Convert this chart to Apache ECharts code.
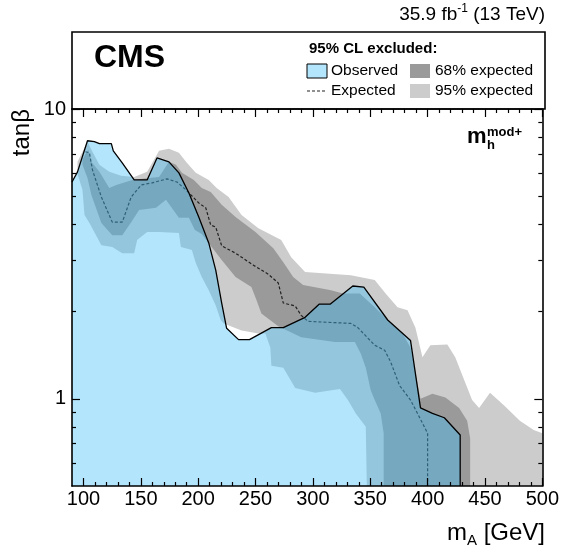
<!DOCTYPE html>
<html>
<head>
<meta charset="utf-8">
<script src="https://cdn.jsdelivr.net/npm/echarts@6/dist/echarts.min.js"></script>
<style>
  html, body { margin: 0; padding: 0; background: #fff; }
  #chart { width: 562px; height: 547px; }
</style>
</head>
<body>
<div id="chart"></div>
<script>
// [mA (GeV), tanBeta] pairs

// observed exclusion contour (black line)
const observed = [
  [90, 5.60], [94.8, 6.07], [103.5, 7.77], [109.5, 7.71], [113.9, 7.59], [124.3, 7.59],
  [126, 7.17], [133.8, 6.52], [144.2, 5.69], [155.5, 5.69], [164.1, 6.78], [174.5, 6.57],
  [183.2, 6.02], [191.9, 5.13], [200.5, 4.24], [209.2, 3.45], [215.3, 2.78], [220.5, 2.14],
  [224.8, 1.75], [235.2, 1.60], [244.7, 1.60], [263.8, 1.76], [274.2, 1.76], [293.2, 1.91],
  [305.4, 2.12], [315, 2.12], [334.8, 2.45], [344.4, 2.43], [365.2, 1.87], [385.1, 1.59],
  [393.8, 0.93], [404.2, 0.89], [414.6, 0.86], [428.4, 0.75], [428.4, 0.5]
];

// median expected (dashed)
const expMedian = [
  [101.7, 7.12], [105.2, 7.06], [107.8, 6.17], [115.6, 4.97], [125.1, 4.07], [133.8, 4.07],
  [141.6, 4.97], [150.3, 5.47], [159.8, 5.56], [172.8, 5.74], [181.5, 5.60], [189.3, 5.26],
  [200.5, 4.74], [206.6, 4.56], [210.9, 3.98], [215.3, 3.91], [220.5, 3.37], [232.6, 3.18],
  [248.2, 2.89], [261.2, 2.69], [269.8, 2.51], [274.2, 2.14], [284.6, 2.09], [289.8, 1.94],
  [295.8, 1.85], [333.1, 1.82], [339.2, 1.76], [353.9, 1.53], [362.6, 1.47], [367.8, 1.34],
  [375.6, 1.11], [385.1, 0.99], [391.2, 0.89], [400, 0.76], [400, 0.5]
];

// 68% band edges
const exp68Upper = [
  [99.1, 6.68], [101.7, 7.00], [104.3, 7.23], [106.9, 6.57], [113.9, 6.07], [122.5, 5.34],
  [128.6, 5.47], [142.5, 5.69], [157.2, 5.78], [165.9, 5.83], [174.5, 6.57], [180.6, 6.42],
  [185.8, 6.02], [196.2, 5.69], [203.1, 5.34], [210.9, 5.17], [220.5, 4.67], [232.6, 4.24],
  [249.9, 3.76], [265.5, 3.31], [274.2, 2.96], [282.8, 2.63], [291.5, 2.47], [315.8, 2.37],
  [326.2, 2.31], [340.9, 2.31], [353.9, 2.07], [365.2, 1.87], [378.2, 1.68], [385.1, 1.50],
  [393.8, 1.00], [404.2, 1.04], [415.5, 1.01], [427.5, 0.93], [434.5, 0.84], [437.1, 0.73],
  [437.1, 0.5]
];
const exp68Lower = [
  [99.1, 6.42], [103.5, 5.78], [106.9, 5.05], [115.6, 4.04], [125.1, 3.67], [133.8, 3.67],
  [141.6, 4.07], [148.5, 4.48], [163.3, 4.56], [171.9, 4.86], [183.2, 4.21], [191.9, 4.21],
  [197.1, 3.82], [203.1, 3.70], [211.8, 3.34], [220.5, 3.01], [232.6, 2.63], [246.4, 2.43],
  [250.8, 2.19], [255.1, 1.97], [269.8, 1.78], [289.8, 1.63], [319.2, 1.57], [336.6, 1.57],
  [341.8, 1.43], [346.1, 1.28], [350.4, 1.07], [353.9, 0.99], [359.1, 0.89], [361.7, 0.76],
  [361.7, 0.5]
];

// 95% band edges
const exp95Upper = [
  [94.8, 6.57], [100, 7.23], [103.5, 7.71], [107.8, 7.12], [113.9, 6.42], [122.5, 6.07],
  [132.9, 5.88], [144.2, 5.83], [155.5, 6.07], [161.5, 6.68], [165.9, 7.17], [174.5, 7.29],
  [183.2, 7.06], [190.1, 6.52], [197.9, 6.02], [209.2, 5.69], [216.1, 5.34], [226.5, 4.97],
  [237.8, 4.31], [252.5, 3.88], [272.4, 3.53], [281.1, 3.08], [293.2, 2.74], [333.1, 2.67],
  [353.9, 2.57], [363.4, 2.31], [373.8, 2.07], [382.5, 2.02], [389.4, 1.76], [395.5, 1.39],
  [402.4, 1.53], [417.2, 1.54], [424.1, 1.39], [431.9, 1.16], [438.8, 0.99], [444.9, 0.93],
  [454.4, 1.05], [466.5, 0.95], [480.4, 0.84], [492.5, 0.78], [500, 0.76], [500, 0.5]
];
const exp95Lower = [
  [94.8, 5.97], [99.1, 5.26], [100.9, 4.31], [105.2, 4.04], [115.6, 3.39], [125.1, 3.34],
  [133.8, 3.18], [144.2, 3.18], [146.8, 3.53], [155.5, 3.76], [165.9, 3.76], [183.2, 3.73],
  [184.9, 3.34], [194.5, 3.26], [197.9, 2.94], [203.1, 2.63], [209.2, 2.37], [215.3, 2.10],
  [219.6, 1.87], [222.2, 1.82], [237.8, 1.72], [252.5, 1.68], [258.6, 1.68], [262.9, 1.50],
  [263.8, 1.30], [274.2, 1.28], [284.6, 1.09], [301.9, 1.05], [323.6, 1.08], [330.5, 0.99],
  [337.4, 0.89], [346.1, 0.80], [347, 0.5]
];

// axis ticks
const xTickLabels = [100, 150, 200, 250, 300, 350, 400, 450, 500];
const xMinorTicks = [110, 120, 130, 140, 160, 170, 180, 190, 210, 220, 230, 240, 260, 270, 280, 290,
  310, 320, 330, 340, 360, 370, 380, 390, 410, 420, 430, 440, 460, 470, 480, 490];
const yTickLabels = [1, 10];
const yMinorTicks = [0.6, 0.7, 0.8, 0.9, 2, 3, 4, 5, 6, 7, 8, 9];

const FONT = '"Liberation Sans", Arial, Helvetica, sans-serif';

const band95 = exp95Upper.concat(exp95Lower.slice().reverse());
const band68 = exp68Upper.concat(exp68Lower.slice().reverse());
const obsArea = observed.concat([[90, 0.5]]);

const polySeries = (name, pts, fill, z) => ({
  name,
  type: 'custom',
  z,
  silent: true,
  data: [[100, 1]],
  renderItem: (params, api) => ({
    type: 'polygon',
    shape: { points: pts.map((p) => api.coord(p)) },
    style: { fill }
  })
});

const frame = { show: true, lineStyle: { color: '#000', width: 1.6 } };
const tickLine = { color: '#000', width: 1.2 };

const xAxisBase = {
  type: 'value', min: 90, max: 500, z: 10,
  splitLine: { show: false }, axisLine: frame
};
const yAxisBase = {
  type: 'log', logBase: 10, min: 0.5, max: 10, z: 10,
  splitLine: { show: false }, axisLine: frame
};

const chart = echarts.init(document.getElementById('chart'), null, { renderer: 'canvas' });

chart.setOption({
  animation: false,
  grid: { left: 72, top: 109, width: 473, height: 377 },
  xAxis: [
    {
      ...xAxisBase, position: 'bottom',
      axisTick: { inside: true, length: 8, customValues: xTickLabels, lineStyle: tickLine },
      axisLabel: { customValues: xTickLabels, margin: 3, fontSize: 20, color: '#000', fontFamily: FONT }
    },
    {
      ...xAxisBase, position: 'bottom', axisLine: { show: false },
      axisTick: { inside: true, length: 4, customValues: xMinorTicks, lineStyle: tickLine },
      axisLabel: { show: false }
    },
    {
      ...xAxisBase, position: 'top',
      axisTick: { inside: true, length: 8, customValues: xTickLabels, lineStyle: tickLine },
      axisLabel: { show: false }
    },
    {
      ...xAxisBase, position: 'top', axisLine: { show: false },
      axisTick: { inside: true, length: 4, customValues: xMinorTicks, lineStyle: tickLine },
      axisLabel: { show: false }
    }
  ],
  yAxis: [
    {
      ...yAxisBase, position: 'left',
      axisTick: { inside: true, length: 8, customValues: yTickLabels, lineStyle: tickLine },
      axisLabel: { customValues: yTickLabels, margin: 6, fontSize: 20, color: '#000', fontFamily: FONT }
    },
    {
      ...yAxisBase, position: 'left', axisLine: { show: false },
      axisTick: { inside: true, length: 4, customValues: yMinorTicks, lineStyle: tickLine },
      axisLabel: { show: false }
    },
    {
      ...yAxisBase, position: 'right',
      axisTick: { inside: true, length: 8, customValues: yTickLabels, lineStyle: tickLine },
      axisLabel: { show: false }
    },
    {
      ...yAxisBase, position: 'right', axisLine: { show: false },
      axisTick: { inside: true, length: 4, customValues: yMinorTicks, lineStyle: tickLine },
      axisLabel: { show: false }
    }
  ],
  series: [
    polySeries('95% expected', band95, '#cccccc', 2),
    polySeries('68% expected', band68, '#9a9a9a', 3),
    {
      name: 'Expected', type: 'line', z: 4, data: expMedian, symbol: 'none', silent: true,
      lineStyle: { color: '#222', width: 1.2, type: [3, 2] }
    },
    polySeries('Observed area', obsArea, 'rgba(65,190,248,0.4)', 5),
    {
      name: 'Observed', type: 'line', z: 6, data: observed, symbol: 'none', silent: true,
      lineStyle: { color: '#000', width: 1.3 }
    }
  ],
  graphic: [
    { type: 'rect', shape: { x: 72, y: 32, width: 473, height: 77 }, style: { fill: 'none', stroke: '#000', lineWidth: 1.6 }, z: 10 },
    {
      type: 'text', x: 545, y: 15,
      style: {
        text: '{a|35.9 fb}{b|-1}{a| (13 TeV)}', align: 'right', verticalAlign: 'middle',
        rich: {
          a: { fontSize: 19, fontFamily: FONT, fill: '#000', lineHeight: 24 },
          b: { fontSize: 12, fontFamily: FONT, fill: '#000', lineHeight: 12, verticalAlign: 'top' }
        }
      }
    },
    { type: 'text', x: 94, y: 58, style: { text: 'CMS', font: 'bold 32px ' + FONT, fill: '#000', verticalAlign: 'middle' } },
    { type: 'text', x: 309, y: 49, style: { text: '95% CL excluded:', font: 'bold 15px ' + FONT, fill: '#000', verticalAlign: 'middle' } },
    { type: 'rect', shape: { x: 307, y: 64, width: 20, height: 14 }, style: { fill: 'rgb(179,229,252)', stroke: '#000', lineWidth: 1 } },
    { type: 'text', x: 331, y: 71, style: { text: 'Observed', font: '15.5px ' + FONT, fill: '#000', verticalAlign: 'middle' } },
    { type: 'rect', shape: { x: 410, y: 64, width: 20, height: 14 }, style: { fill: '#9a9a9a' } },
    { type: 'text', x: 435, y: 71, style: { text: '68% expected', font: '15.5px ' + FONT, fill: '#000', verticalAlign: 'middle' } },
    { type: 'line', shape: { x1: 307, y1: 91, x2: 327, y2: 91 }, style: { stroke: '#222', lineWidth: 1.2, lineDash: [3, 2] } },
    { type: 'text', x: 331, y: 91, style: { text: 'Expected', font: '15.5px ' + FONT, fill: '#000', verticalAlign: 'middle' } },
    { type: 'rect', shape: { x: 410, y: 84, width: 20, height: 14 }, style: { fill: '#cccccc' } },
    { type: 'text', x: 435, y: 91, style: { text: '95% expected', font: '15.5px ' + FONT, fill: '#000', verticalAlign: 'middle' } },
    // benchmark scenario label
    { type: 'text', x: 467, y: 137, z: 10, style: { text: 'm', font: 'bold 22px ' + FONT, fill: '#000', verticalAlign: 'middle' } },
    { type: 'text', x: 487, y: 132, z: 10, style: { text: 'mod+', font: 'bold 13px ' + FONT, fill: '#000', verticalAlign: 'middle' } },
    { type: 'text', x: 487, y: 145, z: 10, style: { text: 'h', font: 'bold 13px ' + FONT, fill: '#000', verticalAlign: 'middle' } },
    // axis titles
    {
      type: 'text', x: 22, y: 109, rotation: Math.PI / 2,
      style: { text: 'tanβ', font: '24px ' + FONT, fill: '#000', align: 'right', verticalAlign: 'middle' }
    },
    {
      type: 'text', x: 545, y: 533,
      style: {
        text: '{a|m}{b|A}{a| [GeV]}', align: 'right', verticalAlign: 'middle',
        rich: {
          a: { fontSize: 24, fontFamily: FONT, fill: '#000', lineHeight: 30 },
          b: { fontSize: 15, fontFamily: FONT, fill: '#000', lineHeight: 15, verticalAlign: 'bottom' }
        }
      }
    }
  ]
});
</script>
</body>
</html>
